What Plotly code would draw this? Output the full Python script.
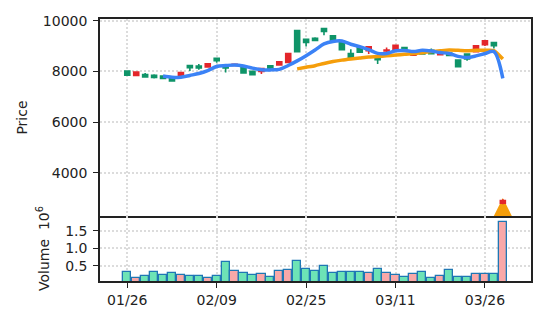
import numpy as np
import pandas as pd
import plotly.graph_objects as go

# ---- trading days (one bar per session) ----
dates = [
    "01/26", "01/27", "01/28", "01/29", "01/30",
    "02/02", "02/03", "02/04", "02/05", "02/06",
    "02/09", "02/10", "02/11", "02/12", "02/13",
    "02/18", "02/19", "02/20", "02/23", "02/24",
    "02/25", "02/26", "02/27", "03/02", "03/03",
    "03/04", "03/05", "03/06", "03/09", "03/10",
    "03/11", "03/12", "03/13", "03/16", "03/17",
    "03/18", "03/19", "03/23", "03/24", "03/25",
    "03/26", "03/27", "03/30",
]

# ---- OHLC ----
opens = [8010, 7835, 7870, 7840, 7815, 7775, 7845, 8225, 8205, 8170,
         8510, 8210, 8230, 8155, 8000, 8000, 8220, 8250, 8355, 9605,
         9265, 9305, 9685, 9400, 9165, 8705, 8940, 8815, 8615, 8800,
         8850, 8940, 8640, 8790, 8830, 8660, 8720, 8445, 8680, 8775,
         9050, 9135, 2800]
highs = [8020, 7975, 7935, 7885, 7830, 7785, 7955, 8230, 8285, 8305,
         8515, 8215, 8300, 8165, 8005, 8120, 8230, 8385, 8710, 9610,
         9270, 9345, 9690, 9410, 9170, 8875, 8945, 8975, 8620, 8940,
         9040, 8960, 8770, 8810, 8900, 8750, 8740, 8460, 8690, 9010,
         9210, 9140, 2950]
lows = [7835, 7830, 7775, 7715, 7705, 7615, 7840, 8015, 8065, 8165,
        8340, 7950, 8210, 7930, 7865, 7895, 8085, 8245, 8350, 8770,
        8980, 9190, 9425, 9200, 8845, 8505, 8745, 8680, 8290, 8760,
        8845, 8810, 8620, 8670, 8690, 8650, 8610, 8175, 8420, 8770,
        9000, 8900, 2750]
closes = [7845, 7970, 7780, 7755, 7715, 7625, 7950, 8145, 8135, 8300,
          8420, 8130, 8280, 7935, 7870, 8110, 8090, 8380, 8705, 8775,
          9140, 9215, 9570, 9205, 8850, 8510, 8750, 8970, 8460, 8840,
          9030, 8815, 8760, 8690, 8700, 8740, 8630, 8185, 8485, 9005,
          9200, 9010, 2900]

# ---- volume, in millions of shares ----
volume_m = [0.31, 0.16, 0.20, 0.31, 0.23, 0.28, 0.24, 0.20, 0.20, 0.16,
            0.20, 0.60, 0.34, 0.28, 0.23, 0.25, 0.19, 0.34, 0.37, 0.64,
            0.41, 0.34, 0.50, 0.28, 0.31, 0.31, 0.31, 0.28, 0.40, 0.28,
            0.23, 0.19, 0.25, 0.31, 0.14, 0.21, 0.37, 0.17, 0.17, 0.25,
            0.25, 0.25, 1.74]

# ---- buy-signal marker (tip of the arrow) ----
signal = [None] * 42 + [3000]

# ---- axis ticks ----
tick_idx = [0, 10, 20, 30, 40]
price_ticks = [4000, 6000, 8000, 10000]
price_tick_text = ["4000", "6000", "8000", "10000"]
vol_ticks = [0.5, 1.0, 1.5]
vol_tick_text = ["0.5", "1.0", "1.5"]

UP = "#e3262b"
DOWN = "#0f9468"
VOL_UP = "#f9a8a8"
VOL_DOWN = "#6de3b6"
AX = "#222222"
GRID = "#dcdcdc"
FONT = "DejaVu Sans"

x = np.arange(len(dates))
df = pd.DataFrame({"o": opens, "h": highs, "l": lows, "c": closes, "v": volume_m}, index=x)
ma5 = df["c"].rolling(5).mean()
ma20 = df["c"].rolling(20).mean()
vol_colors = [VOL_UP if c >= o else VOL_DOWN for o, c in zip(opens, closes)]

fig = go.Figure()

# signal arrow sits underneath the candles
fig.add_trace(go.Scatter(
    x=x, y=signal, mode="markers", xaxis="x", yaxis="y",
    marker=dict(symbol="arrow-up", size=19, color="#f59e0b", line=dict(width=0)),
    showlegend=False, hoverinfo="skip",
))

fig.add_trace(go.Candlestick(
    x=x, open=df["o"], high=df["h"], low=df["l"], close=df["c"],
    xaxis="x", yaxis="y3",
    increasing=dict(line=dict(color=UP, width=1.6), fillcolor=UP),
    decreasing=dict(line=dict(color=DOWN, width=1.6), fillcolor=DOWN),
    whiskerwidth=0, showlegend=False,
))

fig.add_trace(go.Scatter(
    x=x, y=ma20, mode="lines", xaxis="x", yaxis="y3",
    line=dict(color="#f59e0b", width=3.5, shape="spline", smoothing=0.6),
    showlegend=False,
))
fig.add_trace(go.Scatter(
    x=x, y=ma5, mode="lines", xaxis="x", yaxis="y3",
    line=dict(color="#3b82f6", width=3.5, shape="spline", smoothing=0.9),
    showlegend=False,
))

fig.add_trace(go.Bar(
    x=x, y=df["v"], xaxis="x2", yaxis="y2", width=0.92,
    marker=dict(color=vol_colors, line=dict(color="#1f77b4", width=1.3)),
    showlegend=False,
))

xr = [-3.05, 45.15]
pr = [2290, 10065]
split = 0.248

grid = dict(showgrid=True, gridcolor=GRID, griddash="1.5px,2.5px", gridwidth=1.5,
            zeroline=False)
tick_style = dict(ticks="outside", ticklen=5, tickcolor=AX, tickwidth=1.3)
line_style = dict(showline=True, linecolor=AX, linewidth=1.6)

fig.update_layout(
    width=546, height=326,
    margin=dict(l=100, r=15, t=19, b=45),
    paper_bgcolor="white", plot_bgcolor="white",
    font=dict(family=FONT, size=14, color=AX),
    boxgap=0.2, bargap=0,
    # price panel x axis: frame top and bottom (bottom edge is the separator)
    xaxis=dict(**grid, **line_style, mirror=True, range=xr, tickvals=tick_idx,
               anchor="y", domain=[0, 1], showticklabels=False, ticks="",
               matches="x2", rangeslider=dict(visible=False)),
    # volume panel x axis: bottom line only, the separator comes from above
    xaxis2=dict(**grid, **line_style, mirror=False, range=xr, tickvals=tick_idx,
                anchor="y2", domain=[0, 1], **tick_style,
                ticktext=[dates[i] for i in tick_idx],
                rangeslider=dict(visible=False)),
    yaxis=dict(**grid, **line_style, **tick_style, mirror=True,
               domain=[split, 1], range=pr, tickvals=price_ticks,
               ticktext=price_tick_text, ticklabelstandoff=3,
               title=dict(text="Price", standoff=12, font=dict(size=14))),
    yaxis3=dict(overlaying="y", range=pr, visible=False, showgrid=False),
    yaxis2=dict(**grid, **line_style, **tick_style, mirror=True,
                domain=[0, split], anchor="x2", range=[0.063, 1.92],
                tickvals=vol_ticks, ticktext=vol_tick_text, ticklabelstandoff=3,
                title=dict(text="Volume  10<sup>6</sup>", standoff=12,
                           font=dict(size=14))),
)

fig.write_html("out.html")
